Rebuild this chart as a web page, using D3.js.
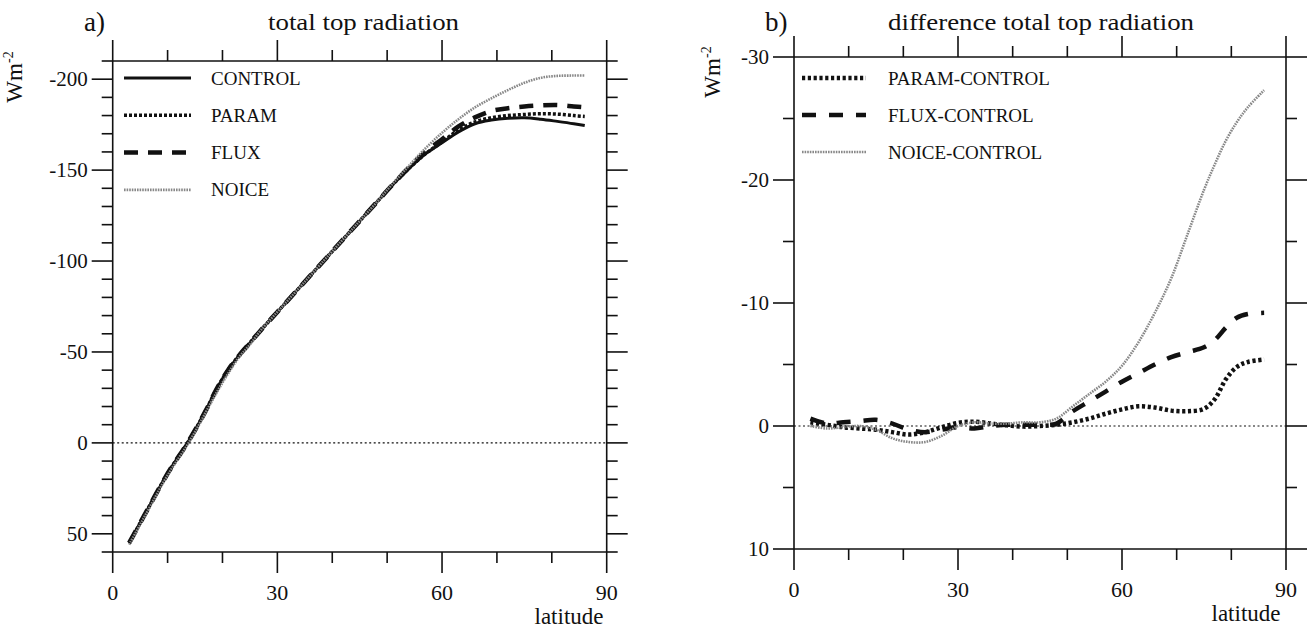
<!DOCTYPE html>
<html>
<head>
<meta charset="utf-8">
<script src="https://cdn.jsdelivr.net/npm/d3@7"></script>
<style>
  html, body { margin: 0; padding: 0; background: #fff; }
  svg { display: block; }
</style>
</head>
<body>
<svg id="chart" width="1309" height="631" font-family="'Liberation Serif', 'Times New Roman', Times, serif"></svg>
<script>
// ---------------- DATA ----------------
// panel a: total top radiation (W m-2), by latitude
const latA = [3, 5, 7, 9, 11, 13, 15, 17, 19, 21, 23, 25, 27, 30, 33, 36, 39, 42, 45, 48, 51, 54, 57, 60, 63, 66, 69, 72, 75, 78, 81, 84, 86];
const control = [55, 44, 33, 22, 12, 3, -7, -18, -30, -40, -48, -55, -62, -72, -82, -92, -102, -112, -122, -132, -142, -151, -159, -165, -171, -175.5, -177.5, -178.5, -178.8, -178, -176.8, -175.5, -174.5];
const param   = [55, 44, 33, 22, 12, 3, -7, -18, -30, -40, -48, -55, -62, -72, -82, -92, -102, -112, -122, -132, -142, -151, -159, -165.5, -172, -176.5, -178.8, -180, -180.6, -181, -180.8, -180, -179.5];
const flux    = [55, 44, 33, 22, 12, 3, -7, -18, -30, -40, -48, -55, -62, -72, -82, -92, -102, -112, -122, -132, -142, -151.5, -160, -167, -174, -179, -182.5, -184, -185, -185.6, -185.8, -185, -184.5];
const noice   = [56, 45, 34, 23, 13, 4, -6, -17, -28, -38, -47, -54, -62, -72, -82, -92, -102, -112, -122, -132, -142.5, -152.5, -162, -170.5, -178, -184.5, -189.5, -194, -198, -200.8, -201.8, -202, -202];

// panel b: difference total top radiation (W m-2), by latitude
const latB = [3, 6, 9, 12, 15, 18, 21, 24, 27, 30, 33, 36, 39, 42, 45, 48, 51, 54, 57, 60, 63, 66, 69, 72, 75, 77, 79, 81, 83, 86];
const paramDiff = [-0.3, -0.1, 0.1, 0.2, 0.3, 0.5, 0.7, 0.5, 0.1, -0.25, -0.35, -0.2, -0.05, 0.05, 0.0, -0.1, -0.3, -0.6, -1.0, -1.35, -1.6, -1.5, -1.25, -1.2, -1.4, -2.2, -3.8, -4.8, -5.2, -5.4];
const fluxDiff  = [-0.6, -0.2, -0.3, -0.4, -0.5, -0.2, 0.3, 0.5, 0.3, 0.1, 0.2, 0.0, -0.1, -0.1, -0.1, -0.2, -1.2, -2.0, -2.8, -3.6, -4.3, -5.0, -5.6, -6.0, -6.4, -7.0, -8.0, -8.8, -9.1, -9.2];
const noiceDiff = [0.0, 0.2, 0.1, 0.0, 0.3, 1.0, 1.3, 1.3, 0.8, 0.0, -0.3, -0.2, -0.2, -0.3, -0.3, -0.6, -1.6, -2.6, -3.6, -4.9, -6.8, -9.2, -12.0, -15.6, -19.2, -21.3, -23.2, -24.7, -25.9, -27.3];

// tick labels
const xTickLabels = [0, 30, 60, 90];
const yTickLabelsA = [-200, -150, -100, -50, 0, 50];
const yTickLabelsB = [-30, -20, -10, 0, 10];

const namesA = ["CONTROL", "PARAM", "FLUX", "NOICE"];
const namesB = ["PARAM-CONTROL", "FLUX-CONTROL", "NOICE-CONTROL"];

// ---------------- STYLES ----------------
const styles = {
  CONTROL: { stroke: "#111", width: 3, dash: null },
  PARAM:   { stroke: "#111", width: 3.5, dash: "3,2" },
  FLUX:    { stroke: "#111", width: 4.5, dash: "14,10" },
  NOICE:   { stroke: "#888", width: 2.6, dash: "1.6,1" },
  "PARAM-CONTROL": { stroke: "#111", width: 4.5, dash: "3.2,2.6" },
  "FLUX-CONTROL":  { stroke: "#111", width: 4.5, dash: "14,13" },
  "NOICE-CONTROL": { stroke: "#888", width: 2.6, dash: "1.6,1" }
};

const svg = d3.select("#chart");
const FONT = "'Liberation Serif', 'Times New Roman', Times, serif";

function txt(g) { return g.append("text").attr("font-family", FONT).attr("fill", "#111"); }

function drawPanel(cfg) {
  const x = d3.scaleLinear().domain([0, 90]).range([cfg.left, cfg.right]);
  const y = d3.scaleLinear().domain(cfg.yDomain).range([cfg.top, cfg.bottom]);
  const g = svg.append("g");
  const MAJ = 21, MIN = 11;

  // frame
  g.append("line").attr("x1", x(0)).attr("x2", x(90)).attr("y1", y(cfg.yDomain[0])).attr("y2", y(cfg.yDomain[0])).attr("stroke", "#111").attr("stroke-width", 1.6);
  g.append("line").attr("x1", x(0)).attr("x2", x(90)).attr("y1", y(cfg.yDomain[1])).attr("y2", y(cfg.yDomain[1])).attr("stroke", "#111").attr("stroke-width", 1.6);
  g.append("line").attr("x1", x(0)).attr("x2", x(0)).attr("y1", cfg.top).attr("y2", cfg.bottom).attr("stroke", "#111").attr("stroke-width", 1.6);
  g.append("line").attr("x1", x(90)).attr("x2", x(90)).attr("y1", cfg.top).attr("y2", cfg.bottom).attr("stroke", "#111").attr("stroke-width", 1.6);

  // x ticks (top & bottom, outward)
  d3.range(0, 91, 10).forEach(v => {
    const L = (v % 30 === 0) ? MAJ : MIN;
    g.append("line").attr("x1", x(v)).attr("x2", x(v)).attr("y1", cfg.top).attr("y2", cfg.top - L).attr("stroke", "#111").attr("stroke-width", 1.6);
    g.append("line").attr("x1", x(v)).attr("x2", x(v)).attr("y1", cfg.bottom).attr("y2", cfg.bottom + L).attr("stroke", "#111").attr("stroke-width", 1.6);
  });
  // y ticks (left & right, outward)
  const lo = Math.min(cfg.yDomain[0], cfg.yDomain[1]), hi = Math.max(cfg.yDomain[0], cfg.yDomain[1]);
  d3.range(lo, hi + 0.001, cfg.minorStep).forEach(v => {
    const L = (Math.abs(v % cfg.majorStep) < 1e-6) ? MAJ : MIN;
    g.append("line").attr("x1", x(0)).attr("x2", x(0) - L).attr("y1", y(v)).attr("y2", y(v)).attr("stroke", "#111").attr("stroke-width", 1.6);
    g.append("line").attr("x1", x(90)).attr("x2", x(90) + L).attr("y1", y(v)).attr("y2", y(v)).attr("stroke", "#111").attr("stroke-width", 1.6);
  });

  // tick labels
  xTickLabels.forEach(v => {
    txt(g).attr("x", x(v)).attr("y", cfg.bottom + 48).attr("text-anchor", "middle").attr("font-size", 22).text(v);
  });
  cfg.yLabels.forEach(v => {
    txt(g).attr("x", x(0) - 25).attr("y", y(v) + 7).attr("text-anchor", "end").attr("font-size", 21).text(v);
  });

  // axis titles
  txt(g).attr("x", cfg.latX).attr("y", cfg.bottom + 72).attr("text-anchor", "middle").attr("font-size", 23).text("latitude");
  const wm = txt(g).attr("transform", `translate(${cfg.wmX},${cfg.wmY}) rotate(-90)`).attr("text-anchor", "middle").attr("font-size", 23);
  wm.append("tspan").text("Wm");
  wm.append("tspan").attr("font-size", 14).attr("dy", -9).text("-2");

  // panel label & title
  txt(g).attr("x", cfg.tagX).attr("y", 31).attr("font-size", 27).text(cfg.tag);
  txt(g).attr("x", cfg.titleX).attr("y", 30).attr("font-size", 23)
    .attr("textLength", cfg.titleW).attr("lengthAdjust", "spacingAndGlyphs").text(cfg.title);

  // zero line
  g.append("line").attr("x1", x(0)).attr("x2", x(90)).attr("y1", y(0)).attr("y2", y(0))
    .attr("stroke", "#111").attr("stroke-width", 1.2).attr("stroke-dasharray", "2,2.5");

  // series
  const line = d3.line().x(d => x(d[0])).y(d => y(d[1])).curve(d3.curveCatmullRom.alpha(0.5));
  cfg.series.forEach(s => {
    const st = styles[s.name];
    g.append("path").datum(cfg.lat.map((l, i) => [l, s.values[i]]))
      .attr("d", line).attr("fill", "none")
      .attr("stroke", st.stroke).attr("stroke-width", st.width)
      .attr("stroke-dasharray", st.dash);
  });

  // legend
  cfg.series.forEach((s, i) => {
    const st = styles[s.name];
    const ly = cfg.legY + i * cfg.legStep;
    g.append("line").attr("x1", cfg.legX1).attr("x2", cfg.legX2).attr("y1", ly).attr("y2", ly)
      .attr("stroke", st.stroke).attr("stroke-width", st.width).attr("stroke-dasharray", st.dash);
    txt(g).attr("x", cfg.legTX).attr("y", ly + 6.5).attr("font-size", 19).text(s.name);
  });
}

drawPanel({
  left: 112.7, right: 606.7, top: 61, bottom: 552,
  yDomain: [-210, 60], minorStep: 10, majorStep: 50, yLabels: yTickLabelsA,
  lat: latA,
  series: [
    { name: namesA[0], values: control },
    { name: namesA[1], values: param },
    { name: namesA[2], values: flux },
    { name: namesA[3], values: noice }
  ],
  legX1: 124, legX2: 191, legTX: 211, legY: 78, legStep: 37.3,
  latX: 569, wmX: 22, wmY: 77,
  tag: "a)", tagX: 84, title: "total top radiation", titleX: 268, titleW: 191
});

drawPanel({
  left: 794, right: 1286, top: 57, bottom: 549,
  yDomain: [-30, 10], minorStep: 5, majorStep: 10, yLabels: yTickLabelsB,
  lat: latB,
  series: [
    { name: namesB[0], values: paramDiff },
    { name: namesB[1], values: fluxDiff },
    { name: namesB[2], values: noiceDiff }
  ],
  legX1: 802, legX2: 866, legTX: 888, legY: 78, legStep: 37,
  latX: 1246, wmX: 720, wmY: 72,
  tag: "b)", tagX: 765, title: "difference total top radiation", titleX: 888, titleW: 306
});
</script>
</body>
</html>
